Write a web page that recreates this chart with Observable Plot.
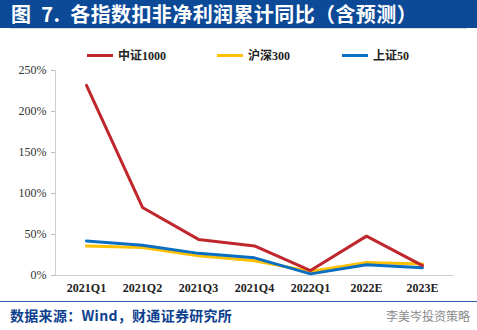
<!DOCTYPE html>
<html><head><meta charset="utf-8">
<script src="https://cdn.jsdelivr.net/npm/d3@7"></script>
<script src="https://cdn.jsdelivr.net/npm/@observablehq/plot@0.6"></script>
<style>
body{margin:0;width:477px;height:330px;background:#fff;overflow:hidden;font-family:"Liberation Serif","Noto Sans CJK SC",serif;}
#title{height:28px;background:#0c4a98;color:#fff;font:bold 20px "Noto Sans CJK SC",sans-serif;line-height:28px;padding-left:11px;white-space:pre;letter-spacing:0.4px}
#rule{height:1px;margin:0 10px;background:#d8d8d8}
#legend{height:33px;position:relative}
.item{position:absolute;top:19px;height:14px;display:flex;align-items:center;font:bold 12px "Liberation Serif","Noto Sans CJK SC",serif;color:#222}
.sw{width:26px;height:3px;margin-right:5px}
#footer{position:absolute;top:301px;left:0;width:477px;height:29px;border-top:1.5px solid #2f64b0}
#src{position:absolute;left:10px;top:3px;font:bold 14px "Noto Sans CJK SC",sans-serif;color:#0d3f8f;letter-spacing:0.3px}
#wm{position:absolute;left:386px;top:5px;font:12px "Noto Sans CJK SC",sans-serif;color:#8a8a8a}
</style></head>
<body>
<div id="title">图  7.  各指数扣非净利润累计同比（含预测）</div>
<div id="rule"></div>
<div id="legend"></div>
<div id="chart"></div>
<div id="footer"><div id="src">数据来源：Wind，财通证券研究所</div><div id="wm">李美岑投资策略</div></div>
<script>
const categories = ["2021Q1","2021Q2","2021Q3","2021Q4","2022Q1","2022E","2023E"];
const seriesNames = ["中证1000","沪深300","上证50"];
const seriesColors = ["#c0272d","#ffc000","#0a6fc2"];
const zz1000 = [232, 83, 44, 36, 6, 48, 12];
const hs300 = [36, 34, 24, 18, 5, 16, 14];
const sz50 = [42, 37, 27, 21.5, 2, 13, 9.5];
const yTicks = [0, 50, 100, 150, 200, 250];

const allSeries = [zz1000, hs300, sz50];
const data = [];
[1, 2, 0].forEach(si => {
  categories.forEach((c, i) => data.push({series: seriesNames[si], cat: c, value: allSeries[si][i]}));
});

const legendPos = [87, 217, 342];
const legend = document.getElementById("legend");
seriesNames.forEach((n, i) => {
  const d = document.createElement("div");
  d.className = "item";
  d.style.left = legendPos[i] + "px";
  d.innerHTML = `<span class="sw" style="background:${seriesColors[i]}"></span>${n}`;
  legend.appendChild(d);
});

const chart = Plot.plot({
  width: 477,
  height: 237,
  marginLeft: 55,
  marginRight: 24,
  marginTop: 8,
  marginBottom: 24,
  style: {fontFamily: "Liberation Serif, serif", fontSize: "12px", color: "#222"},
  x: {type: "point", domain: categories, padding: 0.5, label: null},
  y: {domain: [0, 250], label: null},
  color: {domain: seriesNames, range: seriesColors},
  marks: [
    Plot.axisY({ticks: yTicks, tickFormat: d => d + "%", tickSize: 4, tickPadding: 5, stroke: "#bbb", fill: "#333", fontSize: 12}),
    Plot.axisX({tickSize: 0, tickPadding: 8, fontWeight: "bold", fill: "#222", fontSize: 12}),
    Plot.frame({anchor: "left", stroke: "#cfcfcf"}),
    Plot.frame({anchor: "bottom", stroke: "#cfcfcf"}),
    Plot.lineY(data, {x: "cat", y: "value", z: "series", stroke: "series", strokeWidth: 3})
  ]
});
document.getElementById("chart").appendChild(chart);
</script>
</body></html>
